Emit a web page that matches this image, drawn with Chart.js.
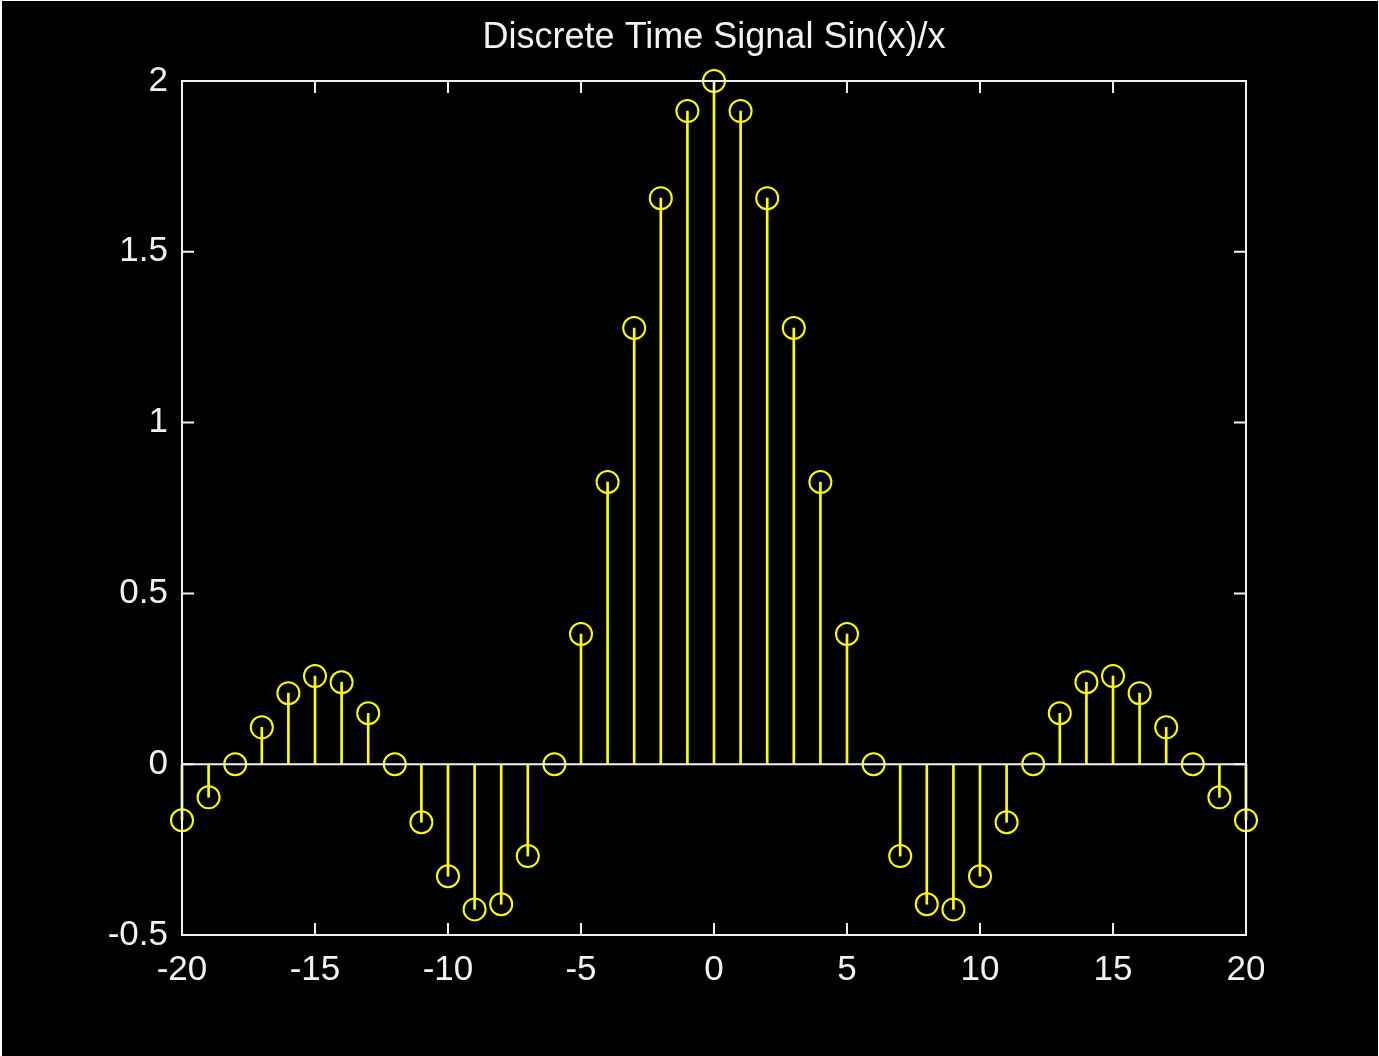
<!DOCTYPE html>
<html>
<head>
<meta charset="utf-8">
<script src="https://cdn.jsdelivr.net/npm/chart.js@4/dist/chart.umd.min.js"></script>
<style>
  html, body { margin: 0; padding: 0; background: #000; }
  #wrap { position: absolute; left: 0; top: 0; width: 1379px; height: 1056px; box-sizing: border-box;
          border-left: 2px solid #fff; border-top: 1px solid #fff; border-right: 1px solid #fff; background: #000; }
  #c { display: block; }
</style>
</head>
<body>
<div id="wrap"><canvas id="c" width="1376" height="1055"></canvas></div>
<script>
// ---- data ----
const titleText = "Discrete Time Signal Sin(x)/x";
const xValues = [-20,-19,-18,-17,-16,-15,-14,-13,-12,-11,-10,-9,-8,-7,-6,-5,-4,-3,-2,-1,0,
                 1,2,3,4,5,6,7,8,9,10,11,12,13,14,15,16,17,18,19,20];
const yValues = [-0.164,-0.097,0,0.108,0.208,0.258,0.240,0.149,0,-0.170,-0.328,-0.425,-0.410,-0.269,0,0.381,0.826,1.277,1.657,1.912,2.0,
                 1.912,1.657,1.277,0.826,0.381,0,-0.269,-0.410,-0.425,-0.328,-0.170,0,0.149,0.240,0.258,0.208,0.108,0,-0.097,-0.164];
const xTickLabels = ["-20","-15","-10","-5","0","5","10","15","20"];
const yTickLabels = ["-0.5","0","0.5","1","1.5","2"];

const points = xValues.map((x, i) => ({ x: x, y: yValues[i] }));

const FONT = "'Liberation Sans', Arial, sans-serif";
const AXIS = "#f2f2f2";
const YEL = "#ffff00";

const framePlugin = {
  id: 'frame',
  afterDraw(chart) {
    const ctx = chart.ctx, a = chart.chartArea;
    const xs = chart.scales.x, ys = chart.scales.y;
    ctx.save();
    ctx.strokeStyle = AXIS;
    ctx.lineWidth = 2;
    // baseline at y = 0
    const y0 = ys.getPixelForValue(0);
    ctx.beginPath(); ctx.moveTo(a.left, y0); ctx.lineTo(a.right, y0); ctx.stroke();
    // box
    ctx.strokeRect(a.left, a.top, a.right - a.left, a.bottom - a.top);
    // inward ticks
    const L = 12;
    ctx.beginPath();
    xs.ticks.forEach(t => {
      const px = xs.getPixelForValue(t.value);
      ctx.moveTo(px, a.bottom); ctx.lineTo(px, a.bottom - L);
      ctx.moveTo(px, a.top); ctx.lineTo(px, a.top + L);
    });
    ys.ticks.forEach(t => {
      const py = ys.getPixelForValue(t.value);
      ctx.moveTo(a.left, py); ctx.lineTo(a.left + L, py);
      ctx.moveTo(a.right, py); ctx.lineTo(a.right - L, py);
    });
    ctx.stroke();
    ctx.restore();
  }
};

new Chart(document.getElementById('c'), {
  type: 'bar',
  data: {
    datasets: [
      {
        type: 'line',
        data: points,
        showLine: false,
        clip: false,
        pointStyle: 'circle',
        pointRadius: 11,
        pointHoverRadius: 11,
        pointBorderWidth: 2,
        pointBorderColor: YEL,
        pointBackgroundColor: 'rgba(0,0,0,0)',
        order: 0
      },
      {
        type: 'bar',
        data: points,
        clip: false,
        backgroundColor: YEL,
        borderWidth: 0,
        barThickness: 2,
        order: 1
      }
    ]
  },
  options: {
    responsive: false,
    animation: false,
    events: [],
    layout: { padding: { left: 48, right: 0, top: 0, bottom: 0 } },
    plugins: {
      legend: { display: false },
      tooltip: { enabled: false },
      title: {
        display: true,
        text: titleText,
        color: AXIS,
        font: { family: FONT, size: 36, weight: 'normal', lineHeight: 1 },
        padding: { top: 19, bottom: 25 }
      }
    },
    scales: {
      x: {
        type: 'linear',
        min: -20, max: 20,
        offset: false,
        grid: { display: false, drawTicks: false },
        border: { display: false },
        afterFit(s) { s.height = 1055 - 934; },
        ticks: {
          stepSize: 5,
          color: AXIS,
          padding: 14,
          maxRotation: 0,
          autoSkip: false,
          font: { family: FONT, size: 35 },
          callback: (v) => xTickLabels[Math.round((v + 20) / 5)]
        }
      },
      y: {
        type: 'linear',
        min: -0.5, max: 2,
        grid: { display: false, drawTicks: false },
        border: { display: false },
        afterFit(s) { s.width = 132; },
        ticks: {
          stepSize: 0.5,
          color: AXIS,
          padding: 14,
          font: { family: FONT, size: 35 },
          callback: (v) => yTickLabels[Math.round((v + 0.5) / 0.5)]
        }
      },
      yRight: {
        type: 'linear',
        position: 'right',
        min: -0.5, max: 2,
        grid: { display: false, drawTicks: false },
        border: { display: false },
        ticks: { display: false },
        afterFit(s) { s.width = 132; }
      }
    }
  },
  plugins: [framePlugin]
});
</script>
</body>
</html>
